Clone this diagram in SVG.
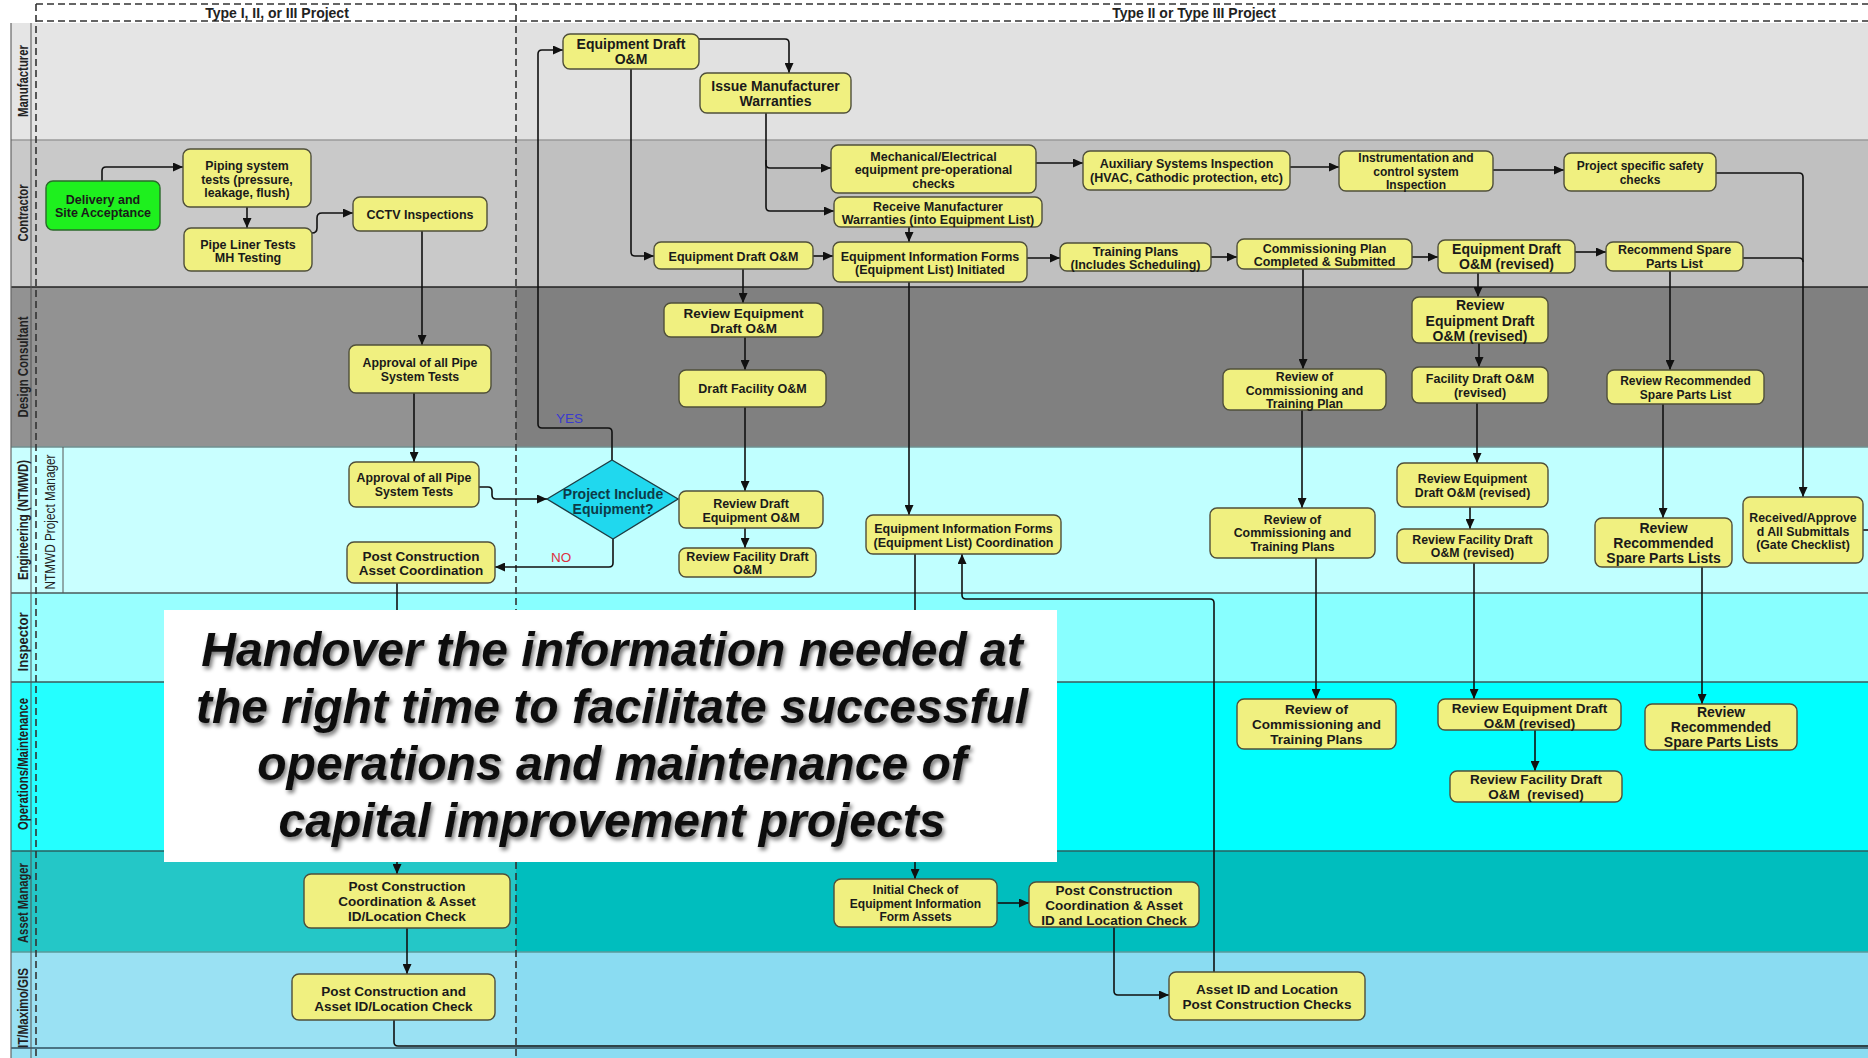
<svg xmlns="http://www.w3.org/2000/svg" width="1868" height="1058" viewBox="0 0 1868 1058">
  <defs>
    <style>
      .node rect { fill: #f0f080; stroke: #4f4f3a; stroke-width: 1.4; }
      .node.start rect { fill: #1ef01e; stroke: #2a6a2a; }
      .node text { font-family: "Liberation Sans", Arial, sans-serif; font-weight: bold; fill: #1a1a1a; text-anchor: middle; }
      .f12 { font-size: 12px; }
      .f123 { font-size: 12.3px; }
      .f125 { font-size: 12.5px; }
      .f135 { font-size: 13.5px; }
      .f14 { font-size: 14px; }
      .lane-label { font-family: "Liberation Sans", Arial, sans-serif; font-size: 14px; fill: #222; text-anchor: middle; }
      .b { font-weight: bold; }
      .sep { stroke-width: 1.5; }
      .dash { fill: none; stroke: #333; stroke-width: 1.6; stroke-dasharray: 7 4; }
      .hdr { font-family: "Liberation Sans", Arial, sans-serif; font-weight: bold; font-size: 14px; fill: #222; text-anchor: middle; }
      #connectors path { fill: none; stroke: #111; stroke-width: 1.6; stroke-linejoin: round; }
      #connectors path.arr { marker-end: url(#ah); }
      .flag { font-family: "Liberation Sans", Arial, sans-serif; font-size: 13.5px; }
      .banner { font-family: "Liberation Sans", Arial, sans-serif; font-weight: bold; font-style: italic; font-size: 48px; fill: #111; text-anchor: middle; }
    </style>
    <marker id="ah" markerUnits="userSpaceOnUse" viewBox="0 0 10 9" markerWidth="10" markerHeight="9" refX="10" refY="4.5" orient="auto">
      <path d="M0,0 L10,4.5 L0,9 z" fill="#111"/>
    </marker>
    <filter id="dropShadow" x="-5%" y="-30%" width="110%" height="170%">
      <feGaussianBlur in="SourceAlpha" stdDeviation="2"/>
      <feOffset dx="2" dy="3" result="off"/>
      <feComponentTransfer><feFuncA type="linear" slope="0.55"/></feComponentTransfer>
      <feMerge><feMergeNode/><feMergeNode in="SourceGraphic"/></feMerge>
    </filter>
  </defs>

  <rect x="0" y="0" width="1868" height="1058" fill="#ffffff"/>

  <!-- swimlane backgrounds -->
  <g id="lanes">
    <rect x="11" y="23" width="1857" height="117" fill="#e1e1e1"/>
    <rect x="11" y="140" width="1857" height="147" fill="#c0c0c0"/>
    <rect x="11" y="287" width="1857" height="160" fill="#808080"/>
    <rect x="11" y="447" width="1857" height="146" fill="#c0ffff"/>
    <rect x="11" y="593" width="1857" height="89" fill="#88ffff"/>
    <rect x="11" y="682" width="1857" height="169" fill="#00ffff"/>
    <rect x="11" y="851" width="1857" height="101" fill="#00bebe"/>
    <rect x="11" y="952" width="1857" height="106" fill="#8adcf2"/>
    <!-- lighter tint over the Type I column -->
    <rect x="11" y="23" width="505" height="1035" fill="#ffffff" opacity="0.14"/>

    <!-- lane separators -->
    <line class="sep" x1="11" y1="140" x2="1868" y2="140" stroke="#9a9a9a"/>
    <line class="sep" x1="11" y1="287" x2="1868" y2="287" stroke="#222" stroke-width="2"/>
    <line class="sep" x1="11" y1="447" x2="1868" y2="447" stroke="#6f8f8f"/>
    <line class="sep" x1="11" y1="593" x2="1868" y2="593" stroke="#4a5a5a" stroke-width="2"/>
    <line class="sep" x1="11" y1="682" x2="1868" y2="682" stroke="#3a5a5a"/>
    <line class="sep" x1="11" y1="851" x2="1868" y2="851" stroke="#2a6060" stroke-width="2"/>
    <line class="sep" x1="11" y1="952" x2="1868" y2="952" stroke="#5a9a9a"/>
    <line class="sep" x1="11" y1="1048" x2="1868" y2="1048" stroke="#2f4f5f" stroke-width="2"/>

    <!-- label column -->
    <line x1="11" y1="23" x2="11" y2="1058" stroke="#666" stroke-width="1.2"/>
    <line x1="31" y1="23" x2="31" y2="1058" stroke="#555" stroke-width="1"/>
    <line x1="63" y1="447" x2="63" y2="593" stroke="#555" stroke-width="1"/>
  </g>

  <!-- lane labels -->
  <g id="lane-labels">
    <text class="lane-label b" transform="translate(28,81) rotate(-90)" textLength="72" lengthAdjust="spacingAndGlyphs">Manufacturer</text>
    <text class="lane-label b" transform="translate(28,213) rotate(-90)" textLength="57" lengthAdjust="spacingAndGlyphs">Contractor</text>
    <text class="lane-label b" transform="translate(28,367) rotate(-90)" textLength="101" lengthAdjust="spacingAndGlyphs">Design Consultant</text>
    <text class="lane-label b" transform="translate(28,520) rotate(-90)" textLength="120" lengthAdjust="spacingAndGlyphs">Engineering (NTMWD)</text>
    <text class="lane-label" transform="translate(55,522) rotate(-90)" textLength="135" lengthAdjust="spacingAndGlyphs">NTMWD Project Manager</text>
    <text class="lane-label b" transform="translate(28,642) rotate(-90)" textLength="59" lengthAdjust="spacingAndGlyphs">Inspector</text>
    <text class="lane-label b" transform="translate(28,764) rotate(-90)" textLength="132" lengthAdjust="spacingAndGlyphs">Operations/Maintenance</text>
    <text class="lane-label b" transform="translate(28,903) rotate(-90)" textLength="80" lengthAdjust="spacingAndGlyphs">Asset Manager</text>
    <text class="lane-label b" transform="translate(28,1008) rotate(-90)" textLength="80" lengthAdjust="spacingAndGlyphs">IT/Maximo/GIS</text>
  </g>

  <!-- project type phases -->
  <g id="phases">
    <rect x="0" y="0" width="1868" height="22" fill="#ffffff"/>
    <path class="dash" d="M36,4 H1868"/>
    <path class="dash" d="M36,21 H1868"/>
    <path class="dash" d="M36,4 V1058"/>
    <path class="dash" d="M516,4 V1058"/>
    <text class="hdr" x="277" y="18">Type I, II, or III Project</text>
    <text class="hdr" x="1194" y="18">Type II or Type III Project</text>
  </g>

  <!-- connectors -->
  <g id="connectors">
    <path class="arr" d="M102,181 V171 Q102,167 106,167 H183"/>
    <path class="arr" d="M247,207 V228"/>
    <path class="arr" d="M312,233 Q317,233 317,228 V218 Q317,213 322,213 H353"/>
    <path class="arr" d="M422,231 V345"/>
    <path class="arr" d="M414,393 V462"/>
    <path class="arr" d="M479,487 H488 Q492,487 492,491 V495 Q492,499 496,499 H547"/>
    <path class="arr" d="M612,460 V432 Q612,428 608,428 H542 Q538,428 538,424 V54 Q538,50 542,50 H563"/>
    <path class="arr" d="M613,539 V563 Q613,567 609,567 H495"/>
    <path class="arr" d="M397,583 V874"/>
    <path class="arr" d="M407,928 V974"/>
    <path d="M394,1020 V1042 Q394,1046 398,1046 H1868"/>
    <path class="arr" d="M699,39 H785 Q789,39 789,43 V73"/>
    <path class="arr" d="M631,69 V252 Q631,256 635,256 H654"/>
    <path class="arr" d="M766,113 V164 Q766,168 770,168 H831"/>
    <path class="arr" d="M766,160 V207 Q766,211 770,211 H834"/>
    <path class="arr" d="M909,227 V242"/>
    <path class="arr" d="M813,256 H833"/>
    <path class="arr" d="M1027,258 H1060"/>
    <path class="arr" d="M1036,163 H1083"/>
    <path class="arr" d="M1290,167 H1339"/>
    <path class="arr" d="M1493,170 H1564"/>
    <path class="arr" d="M1716,173 H1799 Q1803,173 1803,177 V497"/>
    <path d="M1743,258 H1799 Q1803,258 1803,262"/>
    <path class="arr" d="M1211,257 H1237"/>
    <path class="arr" d="M1412,257 H1438"/>
    <path class="arr" d="M1575,252 H1606"/>
    <path class="arr" d="M743,269 V303"/>
    <path class="arr" d="M745,337 V370"/>
    <path class="arr" d="M745,407 V491"/>
    <path class="arr" d="M745,528 V548"/>
    <path class="arr" d="M909,282 V515"/>
    <path class="arr" d="M915,554 V879"/>
    <path class="arr" d="M997,903 H1029"/>
    <path class="arr" d="M1114,927 V991 Q1114,995 1118,995 H1169"/>
    <path class="arr" d="M1214,972 V603 Q1214,599 1210,599 H966 Q962,599 962,595 V554"/>
    <path class="arr" d="M1303,269 V369"/>
    <path class="arr" d="M1302,410 V508"/>
    <path class="arr" d="M1316,558 V699"/>
    <path class="arr" d="M1478,273 V297"/>
    <path class="arr" d="M1479,343 V367"/>
    <path class="arr" d="M1477,403 V463"/>
    <path class="arr" d="M1470,507 V529"/>
    <path class="arr" d="M1474,563 V699"/>
    <path class="arr" d="M1535,730 V771"/>
    <path class="arr" d="M1670,271 V370"/>
    <path class="arr" d="M1663,404 V518"/>
    <path class="arr" d="M1702,567 V704"/>
    <path d="M1863,530 H1868"/>
  </g>

  <!-- decision labels -->
  <text class="flag" x="556" y="423" fill="#3a3ad0">YES</text>
  <text class="flag" x="551" y="562" fill="#dd3040">NO</text>

  <!-- Type I, II or III column -->
  <g id="n-delivery" class="node start f125"><rect x="46" y="181" width="114" height="49" rx="7"/><text x="103" y="203.5">Delivery and</text><text x="103" y="216.5">Site Acceptance</text></g>
  <g id="n-piping" class="node f123"><rect x="183" y="149" width="128" height="58" rx="7"/><text x="247" y="169.5">Piping system</text><text x="247" y="183.5">tests (pressure,</text><text x="247" y="196.5">leakage, flush)</text></g>
  <g id="n-pipeliner" class="node f125"><rect x="184" y="228" width="128" height="43" rx="7"/><text x="248" y="248.5">Pipe Liner Tests</text><text x="248" y="261.5">MH Testing</text></g>
  <g id="n-cctv" class="node f125"><rect x="353" y="197" width="134" height="34" rx="7"/><text x="420" y="218.5">CCTV Inspections</text></g>
  <g id="n-approval-dc" class="node f123"><rect x="349" y="345" width="142" height="48" rx="7"/><text x="420" y="366.5">Approval of all Pipe</text><text x="420" y="380.5">System Tests</text></g>
  <g id="n-approval-eng" class="node f123"><rect x="349" y="462" width="130" height="45" rx="7"/><text x="414" y="481.5">Approval of all Pipe</text><text x="414" y="495.5">System Tests</text></g>
  <g id="n-post-asset-coord" class="node f135"><rect x="347" y="542" width="148" height="41" rx="7"/><text x="421" y="561">Post Construction</text><text x="421" y="575">Asset Coordination</text></g>
  <g id="n-am-post-left" class="node f135"><rect x="304" y="874" width="206" height="54" rx="7"/><text x="407" y="891">Post Construction</text><text x="407" y="906">Coordination &amp; Asset</text><text x="407" y="921">ID/Location Check</text></g>
  <g id="n-it-post-left" class="node f135"><rect x="292" y="974" width="203" height="46" rx="7"/><text x="393.5" y="996">Post Construction and</text><text x="393.5" y="1011">Asset ID/Location Check</text></g>

  <!-- decision -->
  <g id="n-decision" class="node f14">
    <polygon points="547,499 612,460 678,499 613,539" fill="#20d8ee" stroke="#1d3d44" stroke-width="1.4"/>
    <text x="613" y="499" style="fill:#0d3b48">Project Include</text>
    <text x="613" y="514" style="fill:#0d3b48">Equipment?</text>
  </g>

  <!-- Type II / III column: manufacturer and contractor -->
  <g id="n-eqdraft-mfr" class="node f14"><rect x="563" y="34" width="136" height="35" rx="7"/><text x="631" y="49">Equipment Draft</text><text x="631" y="64">O&amp;M</text></g>
  <g id="n-issue-warranties" class="node f14"><rect x="700" y="73" width="151" height="40" rx="7"/><text x="775.5" y="91">Issue Manufacturer</text><text x="775.5" y="106">Warranties</text></g>
  <g id="n-mech-checks" class="node f125"><rect x="831" y="145" width="205" height="48" rx="7"/><text x="933.5" y="160.5">Mechanical/Electrical</text><text x="933.5" y="173.5">equipment pre-operational</text><text x="933.5" y="187.5">checks</text></g>
  <g id="n-receive-warranties" class="node f125"><rect x="834" y="197" width="208" height="30" rx="7"/><text x="938" y="210.5">Receive Manufacturer</text><text x="938" y="223.5">Warranties (into Equipment List)</text></g>
  <g id="n-eqdraft-con" class="node f125"><rect x="654" y="242" width="159" height="27" rx="7"/><text x="733.5" y="260.5">Equipment Draft O&amp;M</text></g>
  <g id="n-eif-init" class="node f125"><rect x="833" y="242" width="194" height="40" rx="7"/><text x="930" y="260.5">Equipment Information Forms</text><text x="930" y="273.5">(Equipment List) Initiated</text></g>
  <g id="n-aux" class="node f125"><rect x="1083" y="151" width="207" height="39" rx="7"/><text x="1186.5" y="167.5">Auxiliary Systems Inspection</text><text x="1186.5" y="181.5">(HVAC, Cathodic protection, etc)</text></g>
  <g id="n-instr" class="node f12"><rect x="1339" y="151" width="154" height="40" rx="7"/><text x="1416" y="161.5">Instrumentation and</text><text x="1416" y="175.5">control system</text><text x="1416" y="188.5">Inspection</text></g>
  <g id="n-safety" class="node f12"><rect x="1564" y="153" width="152" height="38" rx="7"/><text x="1640" y="169.5">Project specific safety</text><text x="1640" y="183.5">checks</text></g>
  <g id="n-training" class="node f125"><rect x="1060" y="243" width="151" height="28" rx="7"/><text x="1135.5" y="255.5">Training Plans</text><text x="1135.5" y="268.5">(Includes Scheduling)</text></g>
  <g id="n-comm-plan" class="node f125"><rect x="1237" y="239" width="175" height="30" rx="7"/><text x="1324.5" y="252.5">Commissioning Plan</text><text x="1324.5" y="265.5">Completed &amp; Submitted</text></g>
  <g id="n-eqdraft-rev" class="node f14"><rect x="1438" y="240" width="137" height="33" rx="7"/><text x="1506.5" y="254">Equipment Draft</text><text x="1506.5" y="269">O&amp;M (revised)</text></g>
  <g id="n-rec-spare" class="node f125"><rect x="1606" y="242" width="137" height="29" rx="7"/><text x="1674.5" y="253.5">Recommend Spare</text><text x="1674.5" y="267.5">Parts List</text></g>

  <!-- design consultant -->
  <g id="n-rev-eqdraft-dc" class="node f135"><rect x="664" y="303" width="159" height="34" rx="7"/><text x="743.5" y="318">Review Equipment</text><text x="743.5" y="333">Draft O&amp;M</text></g>
  <g id="n-draft-facility" class="node f125"><rect x="679" y="370" width="147" height="37" rx="7"/><text x="752.5" y="392.5">Draft Facility O&amp;M</text></g>
  <g id="n-revcomm-dc" class="node f123"><rect x="1223" y="369" width="163" height="41" rx="7"/><text x="1304.5" y="380.5">Review of</text><text x="1304.5" y="394.5">Commissioning and</text><text x="1304.5" y="407.5">Training Plan</text></g>
  <g id="n-rev-eqrev-dc" class="node f14"><rect x="1412" y="297" width="136" height="46" rx="7"/><text x="1480" y="310">Review</text><text x="1480" y="326">Equipment Draft</text><text x="1480" y="341">O&amp;M (revised)</text></g>
  <g id="n-facrev-dc" class="node f125"><rect x="1412" y="367" width="136" height="36" rx="7"/><text x="1480" y="382.5">Facility Draft O&amp;M</text><text x="1480" y="396.5">(revised)</text></g>
  <g id="n-revrec-dc" class="node f12"><rect x="1607" y="370" width="157" height="34" rx="7"/><text x="1685.5" y="384.5">Review Recommended</text><text x="1685.5" y="398.5">Spare Parts List</text></g>

  <!-- engineering -->
  <g id="n-revdraft-eng" class="node f125"><rect x="679" y="491" width="144" height="37" rx="7"/><text x="751" y="507.5">Review Draft</text><text x="751" y="521.5">Equipment O&amp;M</text></g>
  <g id="n-revfac-eng" class="node f125"><rect x="679" y="548" width="137" height="29" rx="7"/><text x="747.5" y="560.5">Review Facility Draft</text><text x="747.5" y="573.5">O&amp;M</text></g>
  <g id="n-eif-coord" class="node f125"><rect x="866" y="515" width="195" height="39" rx="7"/><text x="963.5" y="532.5">Equipment Information Forms</text><text x="963.5" y="546.5">(Equipment List) Coordination</text></g>
  <g id="n-revcomm-eng" class="node f123"><rect x="1210" y="508" width="165" height="50" rx="7"/><text x="1292.5" y="523.5">Review of</text><text x="1292.5" y="536.5">Commissioning and</text><text x="1292.5" y="550.5">Training Plans</text></g>
  <g id="n-rev-eqrev-eng" class="node f123"><rect x="1397" y="463" width="151" height="44" rx="7"/><text x="1472.5" y="482.5">Review Equipment</text><text x="1472.5" y="496.5">Draft O&amp;M (revised)</text></g>
  <g id="n-revfacrev-eng" class="node f123"><rect x="1397" y="529" width="151" height="34" rx="7"/><text x="1472.5" y="543.5">Review Facility Draft</text><text x="1472.5" y="556.5">O&amp;M (revised)</text></g>
  <g id="n-revrec-eng" class="node f14"><rect x="1595" y="518" width="137" height="49" rx="7"/><text x="1663.5" y="533">Review</text><text x="1663.5" y="548">Recommended</text><text x="1663.5" y="563">Spare Parts Lists</text></g>
  <g id="n-received" class="node f123"><rect x="1743" y="497" width="120" height="66" rx="7"/><text x="1803" y="521.5">Received/Approve</text><text x="1803" y="535.5">d All Submittals</text><text x="1803" y="548.5">(Gate Checklist)</text></g>

  <!-- operations / maintenance -->
  <g id="n-revcomm-ops" class="node f135"><rect x="1237" y="699" width="159" height="50" rx="7"/><text x="1316.5" y="714">Review of</text><text x="1316.5" y="729">Commissioning and</text><text x="1316.5" y="744">Training Plans</text></g>
  <g id="n-rev-eqrev-ops" class="node f135"><rect x="1438" y="699" width="183" height="31" rx="7"/><text x="1529.5" y="713">Review Equipment Draft</text><text x="1529.5" y="728">O&amp;M (revised)</text></g>
  <g id="n-revfacrev-ops" class="node f135"><rect x="1450" y="771" width="172" height="31" rx="7"/><text x="1536" y="784">Review Facility Draft</text><text x="1536" y="799">O&amp;M&#160; (revised)</text></g>
  <g id="n-revrec-ops" class="node f14"><rect x="1645" y="704" width="152" height="46" rx="7"/><text x="1721" y="717">Review</text><text x="1721" y="732">Recommended</text><text x="1721" y="747">Spare Parts Lists</text></g>

  <!-- asset manager and IT -->
  <g id="n-initial-check" class="node f12"><rect x="834" y="879" width="163" height="48" rx="7"/><text x="915.5" y="893.5">Initial Check of</text><text x="915.5" y="907.5">Equipment Information</text><text x="915.5" y="920.5">Form Assets</text></g>
  <g id="n-am-post-right" class="node f135"><rect x="1029" y="882" width="170" height="45" rx="7"/><text x="1114" y="895">Post Construction</text><text x="1114" y="910">Coordination &amp; Asset</text><text x="1114" y="925">ID and Location Check</text></g>
  <g id="n-asset-id" class="node f135"><rect x="1169" y="972" width="196" height="48" rx="7"/><text x="1267" y="994">Asset ID and Location</text><text x="1267" y="1009">Post Construction Checks</text></g>

  <!-- statement banner -->
  <g id="banner">
    <rect x="164" y="610" width="893" height="252" fill="#ffffff"/>
    <g filter="url(#dropShadow)">
      <text class="banner" x="612" y="666">Handover the information needed at</text>
      <text class="banner" x="612" y="723">the right time to facilitate successful</text>
      <text class="banner" x="612" y="780">operations and maintenance of</text>
      <text class="banner" x="612" y="837">capital improvement projects</text>
    </g>
  </g>
</svg>
